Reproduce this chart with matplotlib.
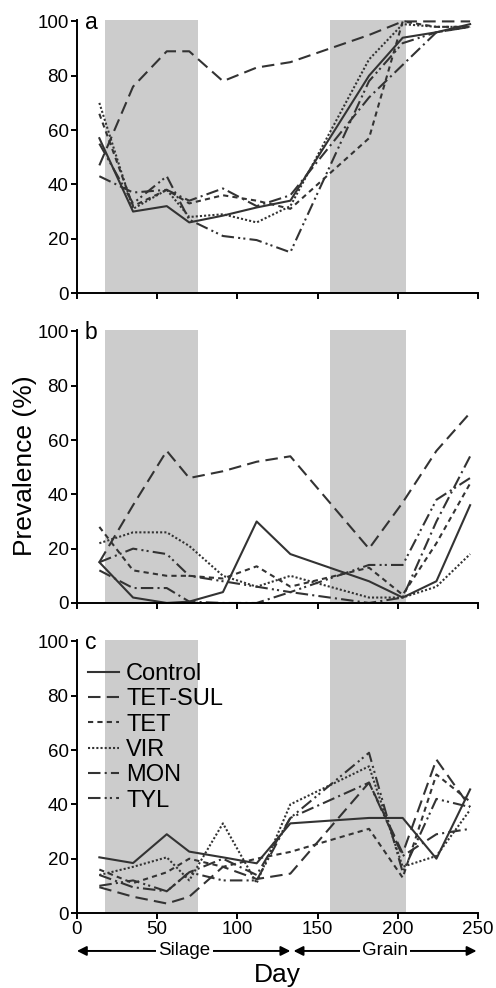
import numpy as np
import matplotlib
matplotlib.use('Agg')
from matplotlib import pyplot as plt
from matplotlib import transforms

plt.rcParams['font.family'] = ['Liberation Sans', 'DejaVu Sans']

days = [14, 35, 56, 70, 91, 112, 133, 182, 203, 224, 245]
groups = ['Control', 'TET-SUL', 'TET', 'VIR', 'MON', 'TYL']

# panel a
a_control = [57, 30, 32, 26, 28.5, 31.5, 34, 80, 94, 96, 99]
a_tetsul = [47, 76, 89, 89, 78, 83, 85, 95, 100, 100, 100]
a_tet = [66, 32, 38, 33, 36, 34, 31, 57, 100, 98, 98]
a_vir = [70, 31, 38, 28, 29, 26, 32, 86, 99, 98, 98]
a_mon = [43, 37, 38, 34, 38.5, 32, 36, 72, 84, 96, 98]
a_tyl = [55, 33, 43, 27, 21, 19.5, 15, 78, 92, 96, 98]

# panel b
b_control = [15, 2, 0, 0.5, 4, 30, 18, 8, 2, 8, 36]
b_tetsul = [15, 36, 56, 46, 48.5, 52, 54, 20, 37, 56, 70]
b_tet = [28, 12, 10, 10, 9, 13.5, 6, 13, 3, 22, 44]
b_vir = [22, 26, 26, 21, 10, 6, 10, 2, 2, 6, 18]
b_mon = [12, 5.5, 5.5, 0.5, 0, 0, 4, 0, 2, 30, 54]
b_tyl = [15, 20, 18, 10, 8, 6, 4, 14, 14, 38, 46]

# panel c
c_control = [20.5, 18.4, 29, 22.6, 20.5, 18.3, 33, 35, 35, 20, 45.5]
c_tetsul = [9.5, 6, 3.5, 6, 17, 12.5, 14.5, 48, 22, 56.5, 39]
c_tet = [16, 11, 15, 20, 17, 20, 22.5, 31, 13, 51, 41]
c_vir = [14, 17, 20.5, 12, 33, 11, 40, 54, 17, 21, 38]
c_mon = [14, 9.5, 8, 15, 20, 14, 35, 48, 21, 29, 31]
c_tyl = [10, 12, 8, 15, 12, 12, 35, 59, 15, 42, 39]

panels = [('a', [a_control, a_tetsul, a_tet, a_vir, a_mon, a_tyl]),
          ('b', [b_control, b_tetsul, b_tet, b_vir, b_mon, b_tyl]),
          ('c', [c_control, c_tetsul, c_tet, c_vir, c_mon, c_tyl])]

styles = ['-', (0, (6, 3)), (0, (2.5, 2)), (0, (1, 1)), (0, (6, 2, 1, 2)), (0, (6, 2, 1, 1.5, 1, 2))]
shade = [(17.5, 75.5), (158, 205)]
col = '#333333'

fig = plt.figure(figsize=(4.96, 9.88), dpi=100)
bottoms = [0.7034, 0.3897, 0.0759]

for (letter, series), bot in zip(panels, bottoms):
    ax = fig.add_axes([0.155, bot, 0.809, 0.2763])
    for s0, s1 in shade:
        ax.axvspan(s0, s1, ymin=0, ymax=1, color='#cccccc', lw=0, zorder=0)
    for name, vals, ls in zip(groups, series, styles):
        ax.plot(days, vals, color=col, lw=1.5, linestyle=ls, label=name, zorder=2)
    ax.set_xlim(0, 250)
    ax.set_ylim(0, 100.5)
    ax.set_xticks([0, 50, 100, 150, 200, 250])
    ax.set_yticks([0, 20, 40, 60, 80, 100])
    for sp in ['top', 'right']:
        ax.spines[sp].set_visible(False)
    for sp in ['left', 'bottom']:
        ax.spines[sp].set_linewidth(1.4)
        ax.spines[sp].set_color('black')
    ax.tick_params(direction='out', length=4, width=1.4, labelsize=13.5, pad=2)
    if letter != 'c':
        ax.set_xticklabels([])
    ax.text(0.02, 0.99, letter, transform=ax.transAxes, fontsize=16.5,
            ha='left', va='center')
    if letter == 'c':
        leg = ax.legend(loc='upper left', bbox_to_anchor=(0.005, 0.95), frameon=False,
                        fontsize=17, handlelength=1.3, handletextpad=0.3,
                        labelspacing=0.14, borderaxespad=0)
        trans = transforms.blended_transform_factory(ax.transData, ax.transAxes)
        yy = -0.139
        ax.annotate('', xy=(0, yy), xytext=(133, yy), xycoords=trans, textcoords=trans,
                    arrowprops=dict(arrowstyle='<|-|>', color='black', lw=1.4,
                                    mutation_scale=14, shrinkA=0, shrinkB=0),
                    annotation_clip=False)
        ax.annotate('', xy=(135, yy), xytext=(249, yy), xycoords=trans, textcoords=trans,
                    arrowprops=dict(arrowstyle='<|-|>', color='black', lw=1.4,
                                    mutation_scale=14, shrinkA=0, shrinkB=0),
                    annotation_clip=False)
        ax.text(67, yy, 'Silage', transform=trans, ha='center', va='center', fontsize=13.5,
                bbox=dict(facecolor='white', edgecolor='none', pad=1.5))
        ax.text(192, yy, 'Grain', transform=trans, ha='center', va='center', fontsize=13.5,
                bbox=dict(facecolor='white', edgecolor='none', pad=1.5))
        ax.text(0.5, -0.227, 'Day', transform=ax.transAxes, ha='center', va='center',
                fontsize=19)

fig.text(25 / 496, 0.529, 'Prevalence (%)', rotation=90, ha='center', va='center',
         fontsize=19)

fig.savefig('out.png', dpi=100)
